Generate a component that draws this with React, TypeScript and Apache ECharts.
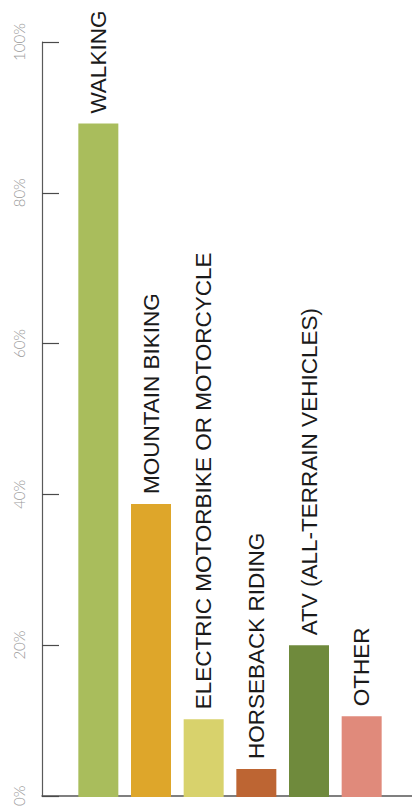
import React, { useEffect, useRef } from "react";
import * as echarts from "echarts";

const categories = [
  "WALKING",
  "MOUNTAIN BIKING",
  "ELECTRIC MOTORBIKE OR MOTORCYCLE",
  "HORSEBACK RIDING",
  "ATV (ALL-TERRAIN VEHICLES)",
  "OTHER",
];
const values = [89.2, 38.8, 10.3, 3.7, 20.1, 10.7];
const barColors = ["#a9bd5c", "#dea62a", "#d8d26c", "#bd6533", "#6f8a3c", "#e08a7b"];
const yTicks = [0, 20, 40, 60, 80, 100];

export default function App() {
  const ref = useRef<HTMLDivElement>(null);
  useEffect(() => {
    if (!ref.current) return;
    const chart = echarts.init(ref.current, null, { renderer: "svg" });
    const top = 42;
    const bottom = 12;
    chart.setOption({
      animation: false,
      backgroundColor: "#ffffff",
      grid: [
        { left: 42, right: 0, top, bottom },
        { left: 72, width: 316, top, bottom },
      ],
      xAxis: [
        {
          gridIndex: 0,
          type: "value",
          min: 0,
          max: 1,
          axisLine: { show: true, lineStyle: { color: "#555", width: 1.5 } },
          axisTick: { show: false },
          axisLabel: { show: false },
          splitLine: { show: false },
        },
        {
          gridIndex: 1,
          type: "category",
          data: categories,
          axisLine: { show: false },
          axisTick: { show: false },
          axisLabel: { show: false },
        },
      ],
      yAxis: [
        {
          gridIndex: 0,
          type: "value",
          min: 0,
          max: 100,
          interval: 20,
          axisLine: { show: true, lineStyle: { color: "#5a5a5a", width: 1.2 } },
          axisTick: { show: true, inside: true, length: 17, lineStyle: { color: "#4a4a4a", width: 1.2 } },
          axisLabel: {
            rotate: 90,
            margin: 16,
            color: "#9a9a9a",
            fontSize: 15,
            fontFamily: "Lato, 'Open Sans', sans-serif",
            fontWeight: 300,
            formatter: (v: number) => (yTicks.includes(v) ? v + "%" : ""),
          },
          splitLine: { show: false },
        },
        {
          gridIndex: 1,
          type: "value",
          min: 0,
          max: 100,
          show: false,
        },
      ],
      series: [
        {
          type: "bar",
          xAxisIndex: 1,
          yAxisIndex: 1,
          barWidth: 40,
          data: values.map((v, i) => ({ value: v, itemStyle: { color: barColors[i] } })),
          label: {
            show: true,
            position: "top",
            distance: 10,
            rotate: 90,
            align: "left",
            verticalAlign: "middle",
            color: "#1a1a1a",
            fontSize: 22.5,
            fontFamily: "'Liberation Sans', Arial, sans-serif",
            formatter: (p: any) => p.name,
          },
        },
      ],
    });
    return () => chart.dispose();
  }, []);
  return <div ref={ref} style={{ width: 412, height: 809, position: "fixed", left: 0, top: 0 }} />;
}
